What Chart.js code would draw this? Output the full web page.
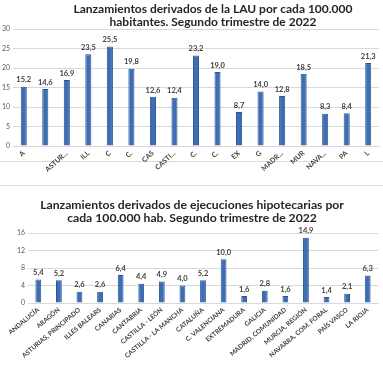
<!DOCTYPE html>
<html><head><meta charset="utf-8">
<script src="https://cdn.jsdelivr.net/npm/chart.js@4"></script>
<style>
body{margin:0;background:#fff;width:383px;height:373px;overflow:hidden;position:relative}
#c1{position:absolute;left:0;top:0}
#c2{position:absolute;left:0;top:186px}
.sep{position:absolute;left:0;width:383px;height:1px;background:#d9d9d9}
</style></head><body>
<div class="sep" style="top:161px"></div>
<div class="sep" style="top:185px"></div>
<canvas id="c1" width="383" height="182"></canvas>
<canvas id="c2" width="383" height="187"></canvas>
<script>
// ---- data ----
const lauTitle = ['Lanzamientos derivados de la LAU por cada 100.000', 'habitantes. Segundo trimestre de 2022'];
const lauLabels = ['A','','ASTUR...','ILL','C','C.','CAS','CASTI...','C.','C.','EX','G','MADR...','MUR','NAVA...','PA','L'];
const lauValues = [15.2,14.6,16.9,23.5,25.5,19.8,12.6,12.4,23.2,19.0,8.7,14.0,12.8,18.5,8.3,8.4,21.3];
const lauTicks = [0,5,10,15,20,25,30];

const hipTitle = ['Lanzamientos derivados de ejecuciones hipotecarias por', 'cada 100.000 hab. Segundo trimestre de 2022'];
const hipLabels = ['ANDALUCÍA','ARAGÓN','ASTURIAS, PRINCIPADO','ILLES BALEARS','CANARIAS','CANTABRIA','CASTILLA - LEÓN','CASTILLA - LA MANCHA','CATALUÑA','C. VALENCIANA','EXTREMADURA','GALICIA','MADRID, COMUNIDAD','MURCIA, REGIÓN','NAVARRA, COM. FORAL','PAÍS VASCO','LA RIOJA'];
const hipValues = [5.4,5.2,2.6,2.6,6.4,4.4,4.9,4.0,5.2,10.0,1.6,2.8,1.6,14.9,1.4,2.1,6.3];
const hipTicks = [0,2,4,6,8,10,12,14,16];

const fmt = v => v.toFixed(1).replace('.', ',');

const titlePlugin = {
  id: 'customTitle',
  afterDraw(chart, args, o) {
    const ctx = chart.ctx;
    ctx.save();
    ctx.fillStyle = '#262626';
    ctx.font = o.font;
    ctx.textAlign = 'center';
    ctx.textBaseline = 'middle';
    o.lines.forEach((l, i) => ctx.fillText(l, o.x, o.y + i * o.lh));
    ctx.restore();
  }
};
const valuePlugin = {
  id: 'valueLabels',
  afterDatasetsDraw(chart) {
    const ctx = chart.ctx;
    ctx.save();
    ctx.fillStyle = '#404040';
    ctx.font = 'bold 7.5px Lato';
    ctx.textAlign = 'center';
    ctx.textBaseline = 'bottom';
    const meta = chart.getDatasetMeta(0);
    meta.data.forEach((bar, i) => {
      ctx.fillText(fmt(chart.data.datasets[0].data[i]), bar.x, bar.y - 3);
    });
    ctx.restore();
  }
};

function makeChart(id, labels, values, ticks, title, opts) {
  return new Chart(document.getElementById(id), {
    type: 'bar',
    data: { labels, datasets: [{ data: values, backgroundColor: '#3d6db3', borderColor: '#2c5693', borderWidth: 1, barPercentage: 0.6, categoryPercentage: 0.47 }] },
    plugins: [titlePlugin, valuePlugin],
    options: {
      responsive: false,
      animation: false,
      layout: { padding: opts.padding },
      plugins: {
        legend: { display: false },
        tooltip: { enabled: false },
        title: { display: false },
        customTitle: { lines: title, x: opts.titleX, y: opts.titleY, lh: opts.titleLH, font: opts.titleFont }
      },
      scales: {
        x: {
          afterFit: s => { if (opts.xHeight) s.height = opts.xHeight; },
          grid: { display: false, drawTicks: false },
          border: { display: true, color: '#d9d9d9' },
          ticks: { autoSkip: false, maxRotation: opts.rot, minRotation: opts.rot, padding: 3, color: '#404040', font: { size: opts.xFont, weight: 'bold', family: 'Lato' } }
        },
        y: {
          min: ticks[0], max: ticks[ticks.length - 1],
          afterBuildTicks: ax => { ax.ticks = ticks.map(v => ({ value: v })); },
          afterFit: s => { s.width = opts.yWidth; },
          grid: { color: '#d9d9d9', drawTicks: false },
          border: { display: false },
          ticks: { padding: 3, color: '#595959', font: { size: 7, family: 'Lato' } }
        }
      }
    }
  });
}

makeChart('c1', lauLabels, lauValues, lauTicks, lauTitle, { padding: { top: 29, left: 0, right: 4, bottom: 2 }, yWidth: 13, titleX: 213, titleY: 9, titleLH: 13, titleFont: 'bold 12px Lato', rot: 42, xFont: 7, xHeight: 34 });
makeChart('c2', hipLabels, hipValues, hipTicks, hipTitle, { padding: { top: 47, left: 0, right: 5, bottom: 0 }, yWidth: 28, titleX: 192, titleY: 19, titleLH: 13, titleFont: 'bold 12.2px Lato', rot: 40, xFont: 6.5, xHeight: 70 });
</script>
</body></html>
